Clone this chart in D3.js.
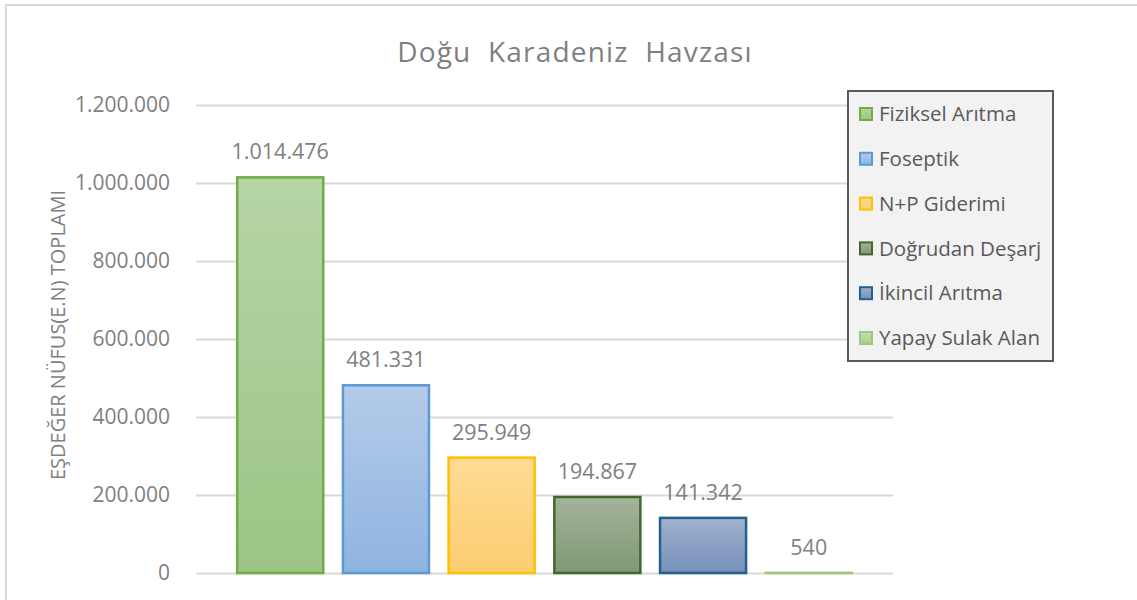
<!DOCTYPE html>
<html><head><meta charset="utf-8">
<script src="https://cdn.jsdelivr.net/npm/d3@7"></script>
<style>body{margin:0;background:#fff}svg{display:block}</style>
</head><body>
<svg id="chart" width="1137" height="600"></svg>
<script>
const categories = ["Fiziksel Arıtma","Foseptik","N+P Giderimi","Doğrudan Deşarj","İkincil Arıtma","Yapay Sulak Alan"];
const values = [1014476, 481331, 295949, 194867, 141342, 540];
const tickValues = [0, 200000, 400000, 600000, 800000, 1000000, 1200000];
const strokeColors = ["#70ad47","#5b9bd5","#ffc000","#43682b","#255e91","#9bc97c"];
const topColors = ["#b5d5a5","#b4cbe9","#fedb95","#a4b39b","#a0b2cd","#c3e0b1"];
const bottomColors = ["#9cc585","#8fb4e1","#fdcd6f","#809873","#7590b8","#a6cf8c"];
const title = "Doğu Karadeniz Havzası";
const yTitle = "EŞDEĞER NÜFUS(E.N) TOPLAMI";

const font = "'Open Sans', sans-serif";
const svg = d3.select("#chart");
const fmt = v => d3.format(",")(v).replace(/,/g, ".");

// frame
svg.append("rect").attr("x",6).attr("y",5).attr("width",1200).attr("height",700)
  .attr("fill","#fff").attr("stroke","#d9d9d9").attr("stroke-width",2);

const x = d3.scaleBand().domain(categories).range([196, 893]).paddingInner(0.186).paddingOuter(0.39);
const y = d3.scaleLinear().domain([0, 1200000]).range([573, 105]);

const defs = svg.append("defs");
categories.forEach((c,i) => {
  const g = defs.append("linearGradient").attr("id","g"+i).attr("x1",0).attr("y1",0).attr("x2",0).attr("y2",1);
  g.append("stop").attr("offset","0%").attr("stop-color",topColors[i]);
  g.append("stop").attr("offset","100%").attr("stop-color",bottomColors[i]);
});

// grid + axis
const yAxis = d3.axisLeft(y).tickValues(tickValues).tickSize(-(893-196)).tickPadding(26).tickFormat(fmt);
const ga = svg.append("g").attr("transform","translate(196,0)").call(yAxis);
ga.select(".domain").remove();
ga.selectAll(".tick line").attr("stroke","#d9d9d9").attr("stroke-width",2);
ga.selectAll(".tick text").attr("fill","#808080").style("font-family",font).style("font-size","21px");

// y title
svg.append("text").attr("transform","translate(65,335) rotate(-90)").attr("text-anchor","middle")
  .attr("fill","#7f7f7f").style("font-family",font).style("font-size","20px").text(yTitle);

// title
svg.append("text").attr("x",575).attr("y",62).attr("text-anchor","middle")
  .attr("fill","#7f7f7f").style("font-family",font).style("font-size","28px")
  .style("letter-spacing","1.2px").style("word-spacing","8px").text(title);

// bars
svg.append("g").selectAll("rect").data(values).join("rect")
  .attr("x",(d,i)=>x(categories[i])).attr("width",x.bandwidth())
  .attr("y",d=>y(d)).attr("height",d=>y(0)-y(d))
  .attr("fill",(d,i)=>`url(#g${i})`).attr("stroke",(d,i)=>strokeColors[i]).attr("stroke-width",2.5);

// labels
svg.append("g").selectAll("text").data(values).join("text")
  .attr("x",(d,i)=>x(categories[i])+x.bandwidth()/2).attr("y",d=>y(d)-18)
  .attr("text-anchor","middle").attr("fill","#808080").style("font-family",font).style("font-size","21.5px")
  .text(d=>fmt(d));

// legend
const lg = svg.append("g");
lg.append("rect").attr("x",848).attr("y",91).attr("width",205).attr("height",270)
  .attr("fill","#f2f2f2").attr("stroke","#595959").attr("stroke-width",2);
const items = lg.selectAll("g.item").data(categories).join("g").attr("class","item")
  .attr("transform",(d,i)=>`translate(0,${114 + i*44.8})`);
items.append("rect").attr("x",860).attr("y",-6).attr("width",12).attr("height",12)
  .attr("fill",(d,i)=>`url(#g${i})`).attr("stroke",(d,i)=>strokeColors[i]).attr("stroke-width",2);
items.append("text").attr("x",879).attr("y",0).attr("dy","0.35em").attr("fill","#595959")
  .style("font-family",font).style("font-size","20.5px").text(d=>d);
</script>
</body></html>
